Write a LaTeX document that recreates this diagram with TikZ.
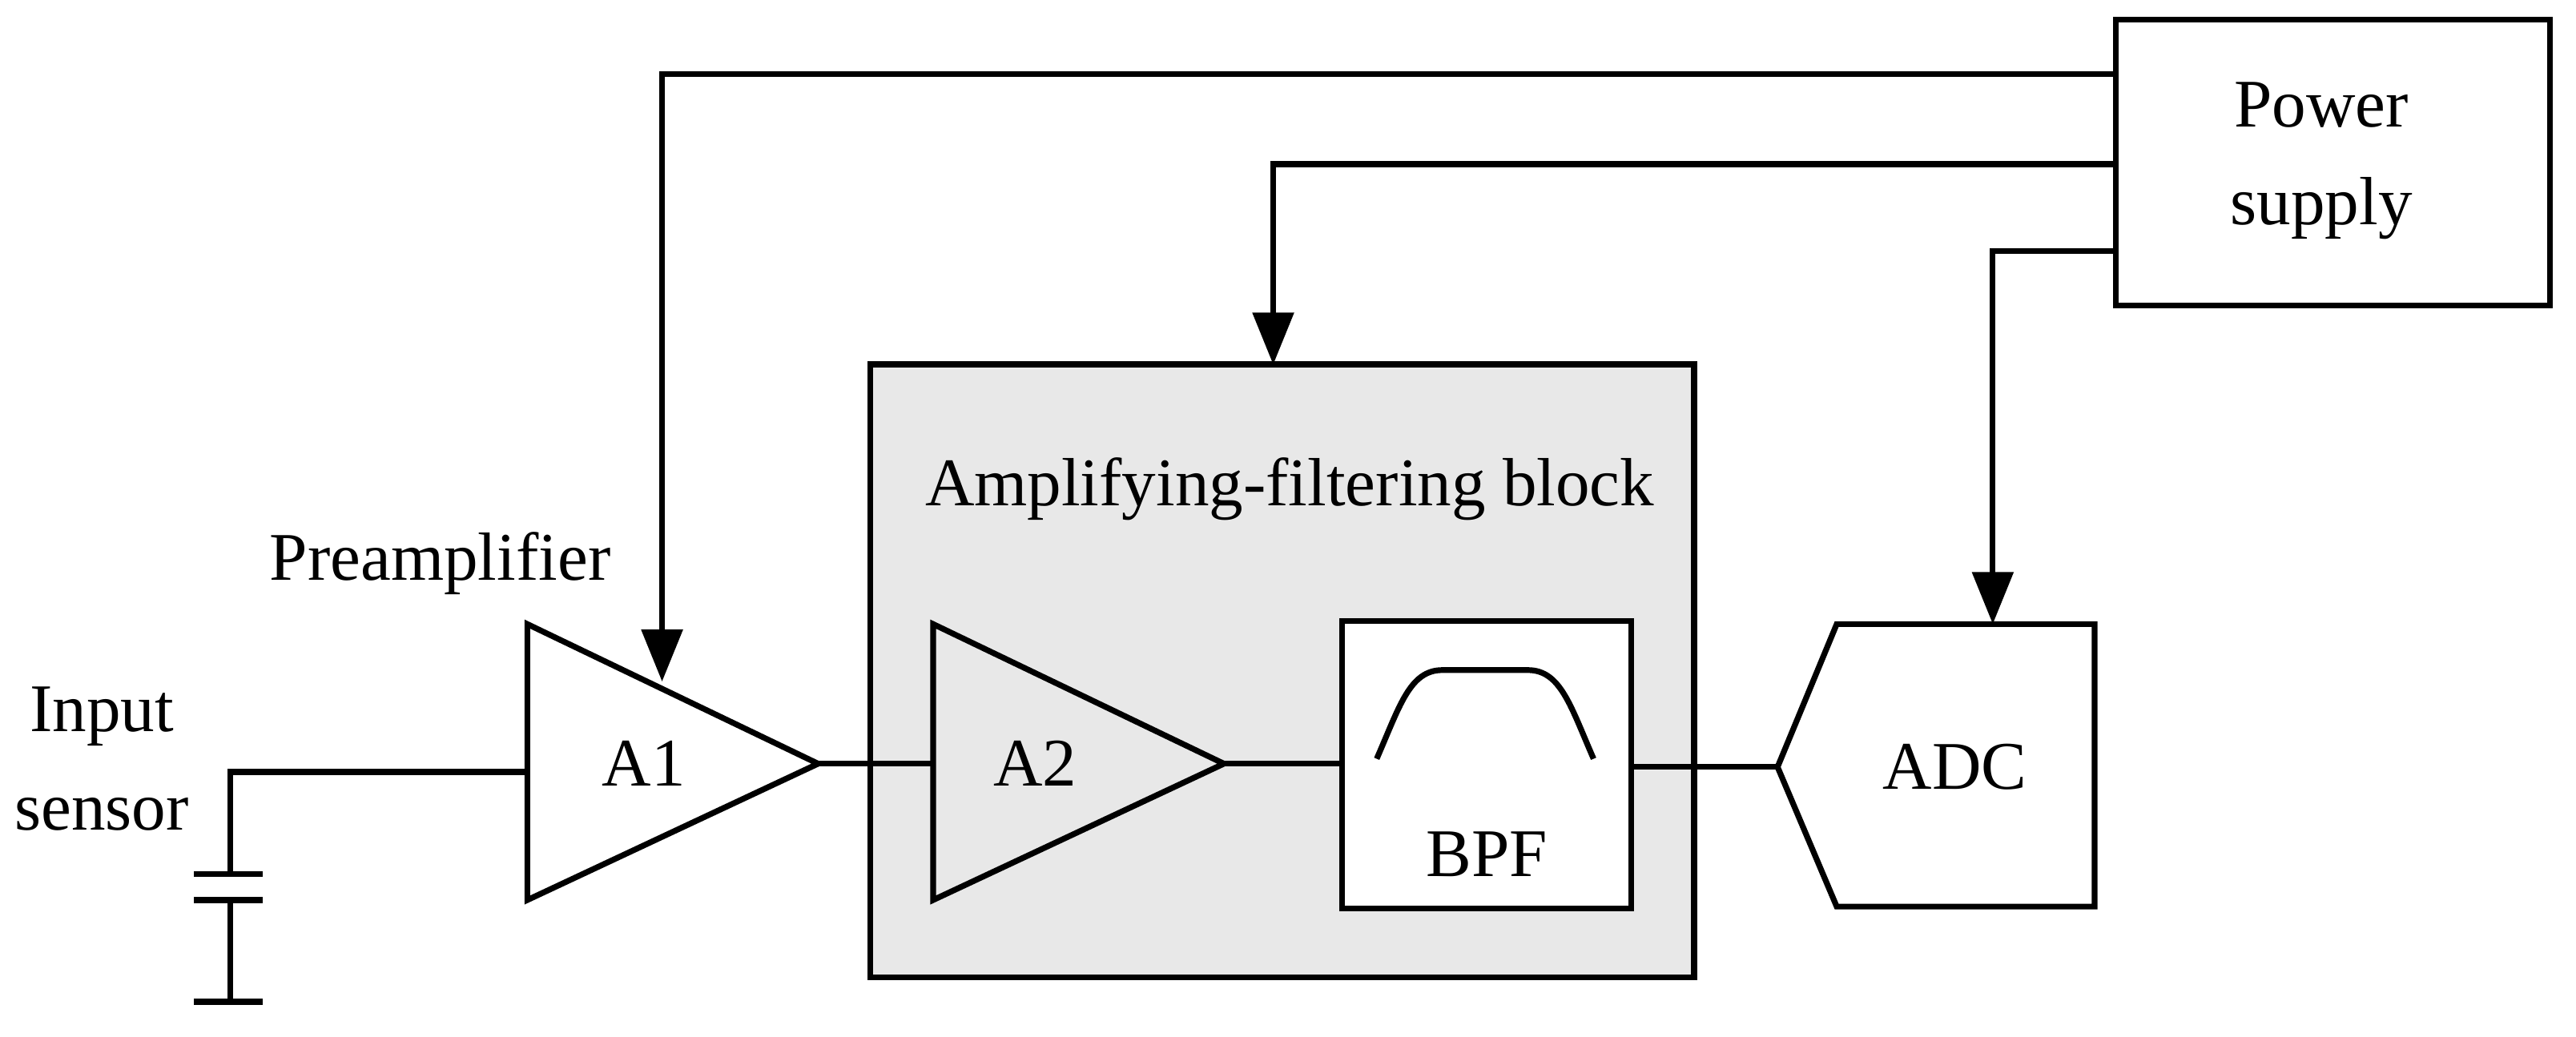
\documentclass[tikz,border=0pt]{standalone}
\usepackage{fontspec}
\setmainfont{Liberation Serif}
\usetikzlibrary{arrows.meta}
\begin{document}
\begin{tikzpicture}[x=0.01cm,y=-0.01cm,line width=1pt,
  lbl/.style={font=\fontsize{11.8}{15}\selectfont,align=center,inner sep=0pt},
  arr/.style={-{Triangle[length=9pt,width=7pt]}}]
\useasboundingbox (0,0) rectangle (1568,631);
% power supply
\node[lbl,draw,minimum width=2.64cm,minimum height=1.74cm,outer sep=0pt] (ps) at (1420,99) {};
\node[lbl] (pst) at (1413,98) {Power\\[2pt]supply};
% gray block
\node[draw,fill=black!9,minimum width=5.01cm,minimum height=3.73cm,outer sep=0pt] (blk) at (780.5,408.5) {};
\node[lbl] (blkt) at (785,298) {Amplifying-filtering block};
\coordinate (blktop) at (775,222);
% A1
\draw (321,380) -- (498,465) -- (321,548) -- cycle;
\node[lbl] (a1) at (392,465) {A1};
\node[lbl] (pre) at (268,343) {Preamplifier};
\coordinate (a1in) at (321,470);
\coordinate (a1out) at (498,465);
\coordinate (a1top) at (403,415);
% A2
\draw (568,380) -- (745,465) -- (568,548) -- cycle;
\node[lbl] (a2) at (630,465) {A2};
\coordinate (a2in) at (568,465);
\coordinate (a2out) at (745,465);
% BPF
\draw[fill=white] (817,378) rectangle (993,553);
\node[lbl] (bpf) at (905,520) {BPF};
\draw (838,462) .. controls (852,430) and (858,408) .. (878,408) -- (930,408) .. controls (950,408) and (956,430) .. (970,462);
\coordinate (bpfin) at (817,465);
\coordinate (bpfout) at (993,467);
% ADC
\draw (1082,467) -- (1118,380) -- (1275,380) -- (1275,552) -- (1118,552) -- cycle;
\node[lbl] (adc) at (1190,467) {ADC};
\coordinate (adcin) at (1082,467);
\coordinate (adctop) at (1213,380);
% connections
\draw (a1out) -- (a2in);
\draw (a2out) -- (bpfin);
\draw (bpfout) -- (adcin);
\draw[arr] (ps.west |- 0,45) -- (403,45) -- (a1top);
\draw[arr] (ps.west |- 0,100) -- (775,100) -- (blktop);
\draw[arr] (ps.west |- 0,153) -- (1213,153) -- (adctop);
% input sensor
\node[lbl] (in) at (62,462) {Input\\[2pt]sensor};
\coordinate (c1) at (140,532);
\draw (a1in) -- (140,470) -- (c1);
\draw (118,532) -- (160,532);
\draw (118,548) -- (160,548);
\draw (140,548) -- (140,610);
\draw (118,610) -- (160,610);
\end{tikzpicture}
\end{document}
